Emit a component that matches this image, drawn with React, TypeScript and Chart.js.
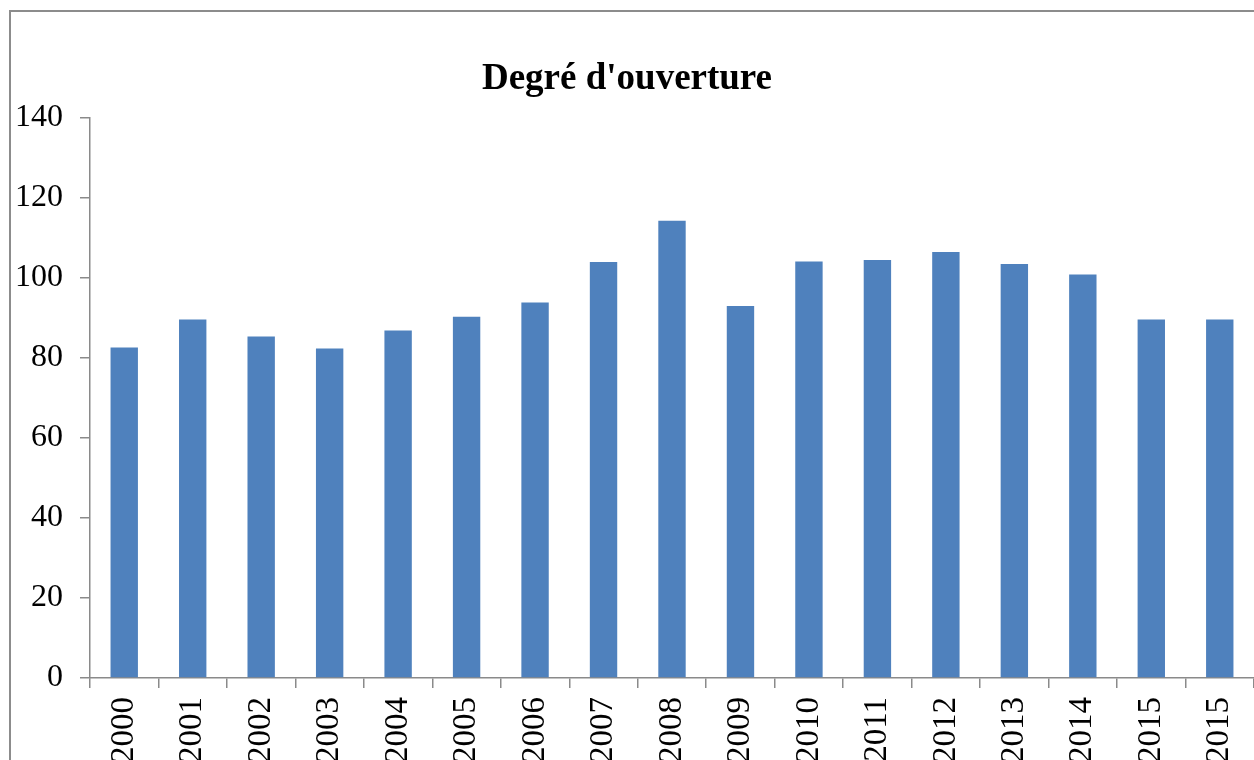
import React, { useEffect, useRef } from "react";
import { Chart, registerables } from "chart.js";

Chart.register(...registerables);

const categories = [
  "2000", "2001", "2002", "2003", "2004", "2005", "2006", "2007", "2008",
  "2009", "2010", "2011", "2012", "2013", "2014", "2015", "2015",
];
const degreOuverture = [
  82.6, 89.6, 85.4, 82.4, 86.9, 90.3, 93.9, 104.0, 114.3,
  93.0, 104.1, 104.5, 106.5, 103.5, 100.9, 89.6, 89.6,
];
const yTickMin = 0;
const yTickMax = 140;
const yTickStep = 20;
const chartTitle = "Degré d'ouverture";

const CANVAS_W = 1300;
const CANVAS_H = 790;
const AXIS_COLOR = "#8a8a8a";
const FONT_FAMILY = "'Liberation Serif', 'Times New Roman', serif";

export default function App() {
  const ref = useRef<HTMLCanvasElement | null>(null);

  useEffect(() => {
    if (!ref.current) return;
    const chart = new Chart(ref.current, {
      type: "bar",
      data: {
        labels: categories,
        datasets: [
          {
            label: chartTitle,
            data: degreOuverture,
            backgroundColor: "#4F81BD",
            borderWidth: 0,
            categoryPercentage: 1,
            barPercentage: 0.4,
          },
        ],
      },
      options: {
        animation: false,
        responsive: false,
        maintainAspectRatio: false,
        devicePixelRatio: 1,
        layout: { padding: { left: 0, top: 0, right: 46, bottom: 0 } },
        plugins: {
          legend: { display: false },
          tooltip: { enabled: false },
          title: {
            display: true,
            text: chartTitle,
            color: "#000",
            font: { family: FONT_FAMILY, size: 37, weight: "bold", lineHeight: 1.2 },
            padding: { top: 57.3, bottom: 16.3 },
          },
        },
        scales: {
          x: {
            type: "category",
            offset: true,
            grid: {
              display: true,
              offset: true,
              drawOnChartArea: false,
              drawTicks: true,
              tickLength: 10,
              color: AXIS_COLOR,
              lineWidth: 1.5,
            },
            border: { display: true, color: AXIS_COLOR, width: 1.5 },
            ticks: {
              autoSkip: false,
              minRotation: 90,
              maxRotation: 90,
              padding: 9,
              color: "#000",
              font: { family: FONT_FAMILY, size: 33 },
            },
            afterFit: (scale: any) => {
              scale.height = CANVAS_H - 678;
            },
          },
          y: {
            min: yTickMin,
            max: yTickMax,
            grid: {
              display: true,
              drawOnChartArea: false,
              drawTicks: true,
              tickLength: 10,
              color: AXIS_COLOR,
              lineWidth: 1.5,
            },
            border: { display: true, color: AXIS_COLOR, width: 1.5 },
            ticks: {
              stepSize: yTickStep,
              padding: 17,
              color: "#000",
              font: { family: FONT_FAMILY, size: 32 },
            },
            afterFit: (scale: any) => {
              scale.width = 90;
            },
          },
        },
      },
    });
    return () => chart.destroy();
  }, []);

  return (
    <div
      style={{
        position: "fixed",
        left: 0,
        top: 0,
        width: 1254,
        height: 760,
        overflow: "hidden",
        background: "#fff",
      }}
    >
      <div
        style={{
          position: "absolute",
          left: 9,
          top: 10,
          width: 1400,
          height: 900,
          borderLeft: "2px solid #8c8c8c",
          borderTop: "2px solid #8c8c8c",
          boxSizing: "border-box",
        }}
      />
      <canvas
        ref={ref}
        width={CANVAS_W}
        height={CANVAS_H}
        style={{
          position: "absolute",
          left: 0,
          top: 0,
          width: CANVAS_W,
          height: CANVAS_H,
        }}
      />
    </div>
  );
}
